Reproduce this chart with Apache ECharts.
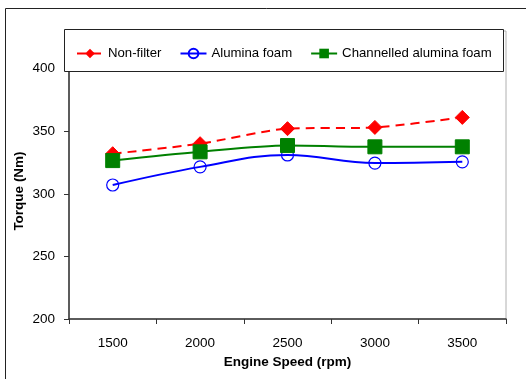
<!DOCTYPE html>
<html><head><meta charset="utf-8">
<script src="https://cdn.jsdelivr.net/npm/echarts@6/dist/echarts.min.js"></script>
<style>html,body{margin:0;padding:0;background:#fff;}#c{width:526px;height:379px;}</style>
</head><body><div id="c"></div>
<script>
var categories = ['1500', '2000', '2500', '3000', '3500'];
var nonFilter = [332, 340, 352, 353, 361];
var aluminaFoam = [307, 321.5, 331, 324.5, 325.5];
var channelledFoam = [326.5, 333.5, 338.5, 337.5, 337.5];
var yTicks = [200, 250, 300, 350, 400];

var FONT = 'Liberation Sans';
var chart = echarts.init(document.getElementById('c'), null, {renderer: 'canvas'});
chart.setOption({
  animation: false,
  backgroundColor: '#fff',
  textStyle: {fontFamily: FONT},
  grid: {left: 69, right: 20, top: 31, bottom: 60, show: true, borderColor: '#b0b0b0', borderWidth: 1, backgroundColor: 'transparent'},
  legend: {
    left: 71, top: 42, z: 20,
    itemWidth: 26, itemHeight: 12, itemGap: 18,
    textStyle: {fontFamily: FONT, fontSize: 13.2, color: '#000'},
    data: ['Non-filter', 'Alumina foam', 'Channelled alumina foam']
  },
  xAxis: {
    type: 'category', data: categories, boundaryGap: true,
    axisLine: {lineStyle: {color: '#333', width: 1.5}},
    axisTick: {show: true, length: 5, lineStyle: {color: '#333'}},
    axisLabel: {color: '#000', fontSize: 13.5, margin: 17, fontFamily: FONT},
    name: 'Engine Speed (rpm)', nameLocation: 'middle', nameGap: 34,
    nameTextStyle: {fontWeight: 'bold', fontSize: 13.5, color: '#000', fontFamily: FONT}
  },
  yAxis: {
    type: 'value', min: 200, max: 430, interval: 50,
    axisLine: {show: true, lineStyle: {color: '#333', width: 1.5}},
    axisTick: {show: true, length: 5, lineStyle: {color: '#333'}},
    splitLine: {show: false},
    axisLabel: {color: '#000', fontSize: 13.5, margin: 14, fontFamily: FONT, showMaxLabel: false,
      formatter: function (v) { return yTicks.indexOf(v) >= 0 ? String(v) : ''; }}
  },
  graphic: [
    {type: 'rect', z: 100, silent: true, shape: {x: 5.5, y: 8.5, width: 700, height: 600},
      style: {fill: 'none', stroke: '#222', lineWidth: 1}},
    {type: 'rect', z: 15, silent: true, shape: {x: 64.5, y: 29.5, width: 439, height: 42},
      style: {fill: '#fff', stroke: '#222', lineWidth: 1}},
    {type: 'text', z: 20, x: 19, y: 191, rotation: Math.PI / 2,
      style: {text: 'Torque (Nm)', fontFamily: FONT, fontWeight: 'bold', fontSize: 13.5, fill: '#000',
        textAlign: 'center', textVerticalAlign: 'middle'}}
  ],
  series: [
    {name: 'Non-filter', type: 'line', data: nonFilter, smooth: 0.25,
      symbol: 'diamond', symbolSize: 14,
      lineStyle: {color: '#ff0000', width: 2, type: [9, 6]},
      itemStyle: {color: '#ff0000', borderColor: '#ff0000'}, z: 2},
    {name: 'Alumina foam', type: 'line', data: aluminaFoam, smooth: 0.4,
      symbol: 'circle', symbolSize: 12,
      lineStyle: {color: '#0000ff', width: 2},
      itemStyle: {color: 'rgba(255,255,255,0)', borderColor: '#0000ff', borderWidth: 1.2}, z: 3},
    {name: 'Channelled alumina foam', type: 'line', data: channelledFoam, smooth: 0.3,
      symbol: 'rect', symbolSize: 14,
      lineStyle: {color: '#008000', width: 2},
      itemStyle: {color: '#008000', borderColor: '#008000'}, z: 4}
  ]
});
</script></body></html>
